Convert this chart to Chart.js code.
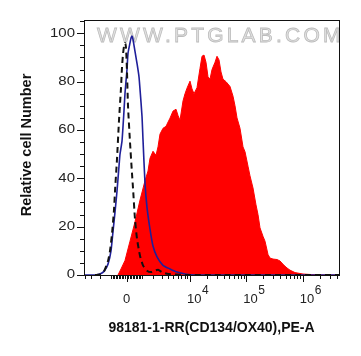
<!DOCTYPE html>
<html>
<head>
<meta charset="utf-8">
<script src="https://cdn.jsdelivr.net/npm/chart.js@4.4.1/dist/chart.umd.min.js"></script>
<style>
  html, body { margin: 0; padding: 0; background: #fff; }
  #wrap { width: 361px; height: 356px; }
</style>
</head>
<body>
<div id="wrap"><canvas id="c" width="361" height="356"></canvas></div>
<script>
// ---- Data (x in display channel units of the biexponential PE-A axis, y = relative cell number) ----
const redX   = [34, 37, 41, 46, 51, 56, 61, 64, 66, 69, 72, 74, 76, 79, 82, 83, 86, 89, 92, 94, 96, 99, 101, 103, 106, 108, 110, 113, 116, 118, 120, 122, 124, 126, 128, 131, 133, 135, 137, 139, 142, 144, 146, 149, 151, 153, 156, 159, 161, 164, 166, 169, 172, 174, 176, 179, 181, 184, 186, 189, 193, 196, 200, 203, 206, 211, 219, 231, 241, 256];
const redY   = [0, 2.5, 6, 14, 22, 31, 39, 43, 48.3, 51.2, 49.5, 53, 58.3, 60.7, 61.5, 62.4, 64.9, 67.8, 68.6, 66, 64, 72, 75, 77.3, 80.2, 77, 75, 77.5, 85.5, 90.5, 91, 88, 82, 81, 85, 88, 90.5, 89, 84, 81, 80, 79, 78, 74, 70, 65, 60.7, 53, 51, 45, 41, 36, 29, 25, 19.5, 16, 14, 8.5, 7, 6.6, 6.4, 5.8, 4, 2.9, 2.0, 1.0, 0.4, 0.1, 0, 0];

const blueX  = [1, 11, 16, 20, 24, 27, 29, 31, 33, 35, 36, 38, 40, 41, 43, 44, 46, 47, 48, 49, 50, 52, 53, 55, 56, 58, 59, 61, 63, 66, 69, 73, 79, 86, 93, 101, 111, 256];
const blueY  = [0, 0, 0.4, 1.5, 4.5, 10, 18, 26, 34.7, 45, 50, 55.4, 68, 75.2, 85, 91.7, 96, 98, 98.8, 97.5, 95, 90, 87.6, 82, 76.9, 65.7, 56, 38, 28, 19, 12, 7.5, 4, 2.5, 1.2, 0.4, 0, 0];

const dashX  = [11, 16, 20, 24, 26, 28, 30, 31, 33, 35, 37, 38, 39, 40, 41, 42, 43, 44, 46, 48, 49, 51, 53, 56, 59, 63, 67, 71, 74, 78, 83, 91, 101, 256];
const dashY  = [0, 0.2, 1.5, 5.8, 10, 17, 27, 34.7, 48, 64, 77.4, 86, 91.3, 94.6, 96, 94, 84, 70, 55, 42, 36, 23, 15, 8, 4, 1.8, 1.2, 1.8, 2.2, 1.2, 0.5, 0.2, 0, 0];

// ---- Axis ticks ----
const yMajorTicks = [0, 20, 40, 60, 80, 100];
const yMinorStep = 5;
const xMajorValues = [0, 1e4, 1e5, 1e6];
const xMajorLabels = [["0", ""], ["10", "4"], ["10", "5"], ["10", "6"]];
const xTitle = "98181-1-RR(CD134/OX40),PE-A";
const yTitle = "Relative cell Number";
const watermark = "WWW.PTGLAB.COM";

// biexponential (asinh) display transform: fluorescence value -> channel
const ZERO_CH = 42.5, DEC_CH = 56.5, W = 1513;
function chan(v) { return ZERO_CH + DEC_CH * Math.asinh(v / W) / Math.LN10; }

const FONT = "'Liberation Sans', Arial, sans-serif";

function pts(xs, ys) { return xs.map((x, i) => ({ x: x, y: ys[i] })); }

const decor = {
  id: 'decor',
  beforeDatasetsDraw(chart) {
    const ctx = chart.ctx;
    ctx.save();
    ctx.font = "21px " + FONT;
    try { ctx.letterSpacing = "3.2px"; } catch (e) {}
    ctx.textBaseline = "alphabetic";
    ctx.textAlign = "left";
    ctx.fillStyle = "#e2e2e2";
    ctx.strokeStyle = "#bcbcbc";
    ctx.lineWidth = 0.8;
    ctx.fillText(watermark, 97, 42);
    ctx.strokeText(watermark, 97, 42);
    ctx.restore();
  },
  afterDraw(chart) {
    const ctx = chart.ctx;
    const a = chart.chartArea;
    const xs = chart.scales.x, ys = chart.scales.y;
    ctx.save();
    // frame
    ctx.strokeStyle = "#111";
    ctx.lineWidth = 1;
    ctx.strokeRect(a.left + 0.5, a.top + 0.5, a.right - a.left - 1, a.bottom - a.top);
    // y ticks
    ctx.beginPath();
    for (let v = 0; v <= 105; v += yMinorStep) {
      const y = Math.round(ys.getPixelForValue(v)) + 0.5;
      const len = (v % 20 === 0) ? 7 : 4;
      ctx.moveTo(a.left, y); ctx.lineTo(a.left - len, y);
    }
    ctx.stroke();
    // y labels
    ctx.fillStyle = "#222";
    ctx.font = "12px " + FONT;
    ctx.textBaseline = "middle";
    ctx.textAlign = "right";
    yMajorTicks.forEach(v => {
      const y = ys.getPixelForValue(v);
      ctx.save();
      ctx.translate(75, y);
      ctx.scale(1.25, 1);
      ctx.fillText(String(v), 0, 0);
      ctx.restore();
    });
    // x ticks
    const bottom = a.bottom + 0.5;
    ctx.beginPath();
    const minor = [];
    for (let n = 2; n <= 6; n++) {
      for (let k = 1; k <= 9; k++) {
        minor.push(k * Math.pow(10, n));
        minor.push(-k * Math.pow(10, n));
      }
    }
    minor.forEach(v => {
      const c = chan(v);
      if (c < xs.min || c > xs.max) return;
      if (xMajorValues.includes(v)) return;
      const x = Math.round(xs.getPixelForValue(c)) + 0.5;
      ctx.moveTo(x, bottom); ctx.lineTo(x, bottom + 3.5);
    });
    xMajorValues.forEach(v => {
      const x = Math.round(xs.getPixelForValue(chan(v))) + 0.5;
      ctx.moveTo(x, bottom); ctx.lineTo(x, bottom + 6.5);
    });
    ctx.stroke();
    // x labels
    ctx.textBaseline = "alphabetic";
    xMajorValues.forEach((v, i) => {
      const x = xs.getPixelForValue(chan(v));
      const [base, exp] = xMajorLabels[i];
      if (!exp) {
        ctx.font = "13px " + FONT;
        ctx.textAlign = "center";
        ctx.fillText(base, x, 303);
      } else {
        ctx.font = "13px " + FONT;
        ctx.textAlign = "left";
        ctx.fillText(base, x - 3, 303);
        const w = ctx.measureText(base).width;
        ctx.font = "12px " + FONT;
        ctx.fillText(exp, x - 3 + w + 0.5, 293.5);
      }
    });
    // titles
    ctx.fillStyle = "#111";
    ctx.font = "bold 14px " + FONT;
    ctx.textAlign = "center";
    ctx.textBaseline = "middle";
    ctx.fillText(xTitle, 211.5, 328.5);
    ctx.save();
    ctx.translate(27, 145);
    ctx.rotate(-Math.PI / 2);
    ctx.font = "bold 14.5px " + FONT;
    ctx.fillText(yTitle, 0, 0);
    ctx.restore();
    ctx.restore();
  }
};

new Chart(document.getElementById('c'), {
  type: 'line',
  data: {
    datasets: [
      {
        label: 'isotype (dashed)',
        data: pts(dashX, dashY),
        borderColor: '#111111',
        borderWidth: 2,
        borderDash: [6, 4],
        pointRadius: 0,
        fill: false,
        tension: 0.2,
        order: 1
      },
      {
        label: 'unstained',
        data: pts(blueX, blueY),
        borderColor: '#1f1f9a',
        borderWidth: 1.6,
        pointRadius: 0,
        fill: false,
        tension: 0.2,
        order: 2
      },
      {
        label: '98181-1-RR',
        data: pts(redX, redY),
        borderColor: '#ff0000',
        backgroundColor: '#ff0000',
        borderWidth: 1,
        pointRadius: 0,
        fill: 'origin',
        tension: 0,
        order: 3
      }
    ]
  },
  options: {
    responsive: false,
    animation: false,
    events: [],
    layout: { padding: { left: 84, right: 21, top: 20, bottom: 81 } },
    plugins: { legend: { display: false }, tooltip: { enabled: false } },
    scales: {
      x: { type: 'linear', min: 0, max: 256, display: false },
      y: { type: 'linear', min: 0, max: 105.5, display: false }
    }
  },
  plugins: [decor]
});
</script>
</body>
</html>
